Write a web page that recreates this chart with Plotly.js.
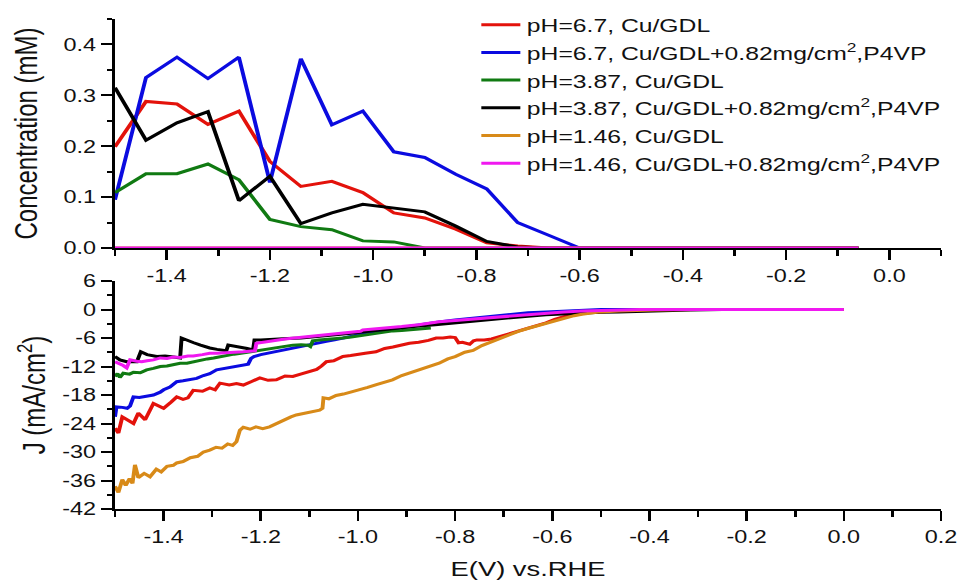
<!DOCTYPE html>
<html>
<head>
<meta charset="utf-8">
<script src="https://cdn.plot.ly/plotly-3.0.1.min.js"></script>
<style>
html,body{margin:0;padding:0;background:#fff;overflow:hidden;}
#wrap{width:969px;height:583px;overflow:hidden;position:relative;}
/* the reference figure is horizontally stretched; reproduce that stretch */
#chart{width:745px;height:583px;transform:scaleX(1.3007);transform-origin:0 0;}
</style>
</head>
<body>
<div id="wrap"><div id="chart"></div></div>
<script>
// ---------- Top panel: concentration (mM) vs E ----------
var E_conc = [-1.50,-1.44,-1.38,-1.32,-1.26,-1.20,-1.14,-1.08,-1.02,-0.96,-0.90,-0.84,-0.78,-0.72,-0.66,-0.60,-0.54,-0.48,-0.42,-0.36,-0.30,-0.24,-0.18,-0.12,-0.06];
var conc_red    = [0.199,0.288,0.283,0.243,0.269,0.170,0.121,0.131,0.109,0.069,0.059,0.037,0.010,0.004,0,0,0,0,0,0,0,0,0,0,0];
var conc_blue   = [0.095,0.335,0.375,0.333,0.375,0.129,0.372,0.242,0.269,0.189,0.178,0.145,0.116,0.050,0.025,0,0,0,0,0,0,0,0,0,0];
var conc_green  = [0.109,0.146,0.146,0.165,0.134,0.056,0.042,0.036,0.014,0.012,0,0,0,0,0,0,0,0,0,0,0,0,0,0,0];
var conc_black  = [0.315,0.212,0.246,0.268,0.093,0.141,0.048,0.069,0.086,0.078,0.071,0.043,0.013,0.002,0,0,0,0,0,0,0,0,0,0,0];
var conc_orange = [0,0,0,0,0,0,0,0,0,0,0,0,0,0,0,0,0,0,0,0,0,0,0,0,0];
var conc_pink   = [0,0,0,0,0,0,0,0,0,0,0,0,0,0,0,0,0,0,0,0,0,0,0,0,0];

// ---------- Bottom panel: J (mA/cm2) vs E ----------
var E_red = [-1.500,-1.493,-1.485,-1.475,-1.462,-1.452,-1.445,-1.438,-1.421,-1.410,-1.400,-1.385,-1.373,-1.360,-1.350,-1.339,-1.320,-1.305,-1.294,-1.284,-1.265,-1.250,-1.236,-1.220,-1.202,-1.185,-1.168,-1.150,-1.134,-1.118,-1.100,-1.085,-1.075,-1.065,-1.050,-1.031,-1.015,-1.000,-0.985,-0.963,-0.945,-0.928,-0.910,-0.894,-0.875,-0.855,-0.839,-0.825,-0.810,-0.800,-0.793,-0.785,-0.770,-0.762,-0.755,-0.740,-0.725,-0.705,-0.688,-0.670,-0.651,-0.630,-0.613,-0.595,-0.576,-0.555,-0.539,-0.520,-0.501,-0.464,-0.420,-0.350,-0.200,0.000];
var J_red = [-25.0,-26.0,-22.6,-23.3,-24.0,-21.8,-22.5,-23.2,-19.8,-20.4,-20.8,-19.5,-18.4,-18.9,-18.6,-17.0,-17.2,-16.5,-16.9,-15.5,-15.9,-15.6,-15.9,-15.2,-14.4,-14.9,-14.8,-14.0,-14.1,-13.6,-13.1,-12.6,-11.9,-11.0,-10.8,-9.9,-9.7,-9.4,-9.2,-8.9,-8.2,-7.9,-7.5,-7.1,-6.9,-6.5,-6.0,-6.0,-5.8,-5.9,-7.0,-6.9,-7.3,-6.6,-6.4,-6.4,-6.2,-5.6,-5.0,-4.5,-4.0,-3.4,-2.8,-2.1,-1.5,-1.1,-0.8,-0.6,-0.5,-0.2,-0.1,0.0,0.0,0.0];

var E_blue = [-1.500,-1.497,-1.485,-1.475,-1.469,-1.462,-1.450,-1.434,-1.421,-1.407,-1.400,-1.387,-1.373,-1.360,-1.346,-1.332,-1.318,-1.305,-1.291,-1.280,-1.265,-1.250,-1.236,-1.226,-1.220,-1.214,-1.200,-1.186,-1.168,-1.152,-1.135,-1.117,-1.100,-1.083,-1.065,-1.048,-1.031,-1.014,-0.995,-0.979,-0.963,-0.945,-0.910,-0.875,-0.833,-0.800,-0.763,-0.725,-0.688,-0.650,-0.613,-0.576,-0.539,-0.500,-0.300,0.000];
var J_blue = [-22.6,-20.5,-20.6,-20.8,-20.3,-18.4,-18.5,-18.3,-18.0,-17.4,-16.9,-16.3,-15.2,-15.0,-14.8,-14.5,-13.9,-13.5,-12.7,-12.5,-12.2,-12.0,-11.7,-11.5,-10.3,-9.9,-9.5,-9.2,-8.9,-8.6,-8.2,-7.8,-7.5,-7.1,-6.7,-6.4,-6.0,-5.6,-5.2,-4.9,-4.7,-4.3,-3.8,-3.2,-2.6,-2.2,-1.8,-1.4,-1.0,-0.7,-0.5,-0.3,-0.1,0.0,0.0,0.0];

var E_green = [-1.500,-1.495,-1.490,-1.483,-1.470,-1.462,-1.448,-1.435,-1.421,-1.407,-1.393,-1.380,-1.366,-1.352,-1.339,-1.324,-1.310,-1.297,-1.283,-1.271,-1.255,-1.241,-1.228,-1.214,-1.202,-1.186,-1.172,-1.159,-1.145,-1.134,-1.117,-1.103,-1.098,-1.093,-1.080,-1.060,-1.031,-1.014,-0.995,-0.979,-0.963,-0.945,-0.928,-0.910,-0.890,-0.870,-0.850];
var J_green = [-14.1,-13.5,-14.3,-13.4,-13.6,-13.2,-13.3,-12.7,-12.4,-12.0,-11.9,-11.6,-11.3,-11.3,-11.0,-10.7,-10.4,-10.2,-9.9,-9.6,-9.4,-9.2,-9.0,-8.8,-8.5,-8.3,-8.0,-7.9,-7.7,-7.5,-7.4,-7.5,-7.8,-6.6,-6.4,-6.3,-6.0,-5.8,-5.5,-5.2,-5.0,-4.8,-4.5,-4.4,-4.2,-4.0,-3.9];

var E_black = [-1.500,-1.495,-1.490,-1.476,-1.462,-1.455,-1.447,-1.441,-1.434,-1.414,-1.397,-1.380,-1.366,-1.363,-1.352,-1.338,-1.324,-1.305,-1.290,-1.271,-1.267,-1.255,-1.241,-1.228,-1.216,-1.213,-1.200,-1.186,-1.168,-1.145,-1.117,-1.083,-1.048,-1.014,-0.979,-0.945,-0.910,-0.875,-0.841,-0.800,-0.763,-0.725,-0.688,-0.650,-0.613,-0.576,-0.539,-0.500,-0.464,-0.400,-0.315,-0.250,0.000];
var J_black = [-9.9,-10.3,-10.6,-11.0,-11.0,-11.0,-8.9,-9.2,-9.5,-9.9,-9.8,-10.0,-10.2,-6.0,-6.5,-7.0,-7.5,-8.1,-8.4,-8.7,-7.5,-7.7,-7.9,-8.2,-8.5,-6.4,-6.4,-6.3,-6.2,-6.1,-6.0,-5.7,-5.4,-5.0,-4.6,-4.2,-3.9,-3.5,-3.2,-2.8,-2.4,-2.0,-1.7,-1.4,-1.1,-0.9,-0.7,-0.6,-0.5,-0.3,-0.1,0.0,0.0];

var E_orange = [-1.500,-1.493,-1.485,-1.478,-1.470,-1.464,-1.459,-1.452,-1.440,-1.428,-1.415,-1.405,-1.393,-1.380,-1.373,-1.360,-1.345,-1.330,-1.318,-1.305,-1.292,-1.280,-1.268,-1.258,-1.250,-1.243,-1.236,-1.222,-1.210,-1.196,-1.182,-1.168,-1.152,-1.138,-1.127,-1.110,-1.095,-1.079,-1.073,-1.071,-1.060,-1.045,-1.030,-1.014,-0.997,-0.980,-0.962,-0.945,-0.929,-0.910,-0.890,-0.872,-0.855,-0.833,-0.815,-0.800,-0.780,-0.763,-0.745,-0.725,-0.705,-0.688,-0.670,-0.651,-0.630,-0.613,-0.595,-0.576,-0.555,-0.539,-0.520,-0.501,-0.464,-0.430,-0.390,-0.300,-0.200,-0.100,0.000];
var J_orange = [-37.2,-38.5,-35.8,-37.0,-35.6,-36.6,-32.7,-35.4,-34.5,-35.2,-33.6,-34.2,-33.0,-32.8,-32.3,-32.0,-31.2,-30.9,-30.0,-29.6,-29.0,-29.2,-28.3,-28.6,-27.8,-25.4,-24.8,-25.2,-24.7,-25.1,-24.7,-24.0,-23.3,-22.6,-22.2,-21.9,-21.6,-21.2,-20.8,-18.6,-18.8,-18.1,-17.8,-17.4,-16.9,-16.4,-15.8,-15.3,-14.8,-13.9,-13.2,-12.5,-12.0,-11.3,-10.4,-9.9,-9.0,-8.6,-7.6,-6.8,-6.0,-5.3,-4.6,-4.0,-3.4,-2.9,-2.4,-1.9,-1.3,-1.0,-0.7,-0.5,-0.3,-0.2,-0.1,0.0,0.0,0.0,0.0];

var E_pink = [-1.500,-1.492,-1.483,-1.476,-1.469,-1.455,-1.445,-1.434,-1.421,-1.407,-1.393,-1.380,-1.366,-1.350,-1.339,-1.320,-1.305,-1.290,-1.270,-1.255,-1.236,-1.220,-1.212,-1.209,-1.190,-1.168,-1.150,-1.131,-1.100,-1.070,-1.048,-1.031,-1.010,-0.995,-0.990,-0.965,-0.945,-0.910,-0.875,-0.833,-0.800,-0.763,-0.725,-0.688,-0.650,-0.613,-0.576,-0.539,-0.500,-0.464,-0.420,-0.200,0.000];
var J_pink = [-11.0,-11.3,-11.8,-12.3,-10.6,-10.9,-11.0,-10.8,-10.6,-10.2,-10.3,-10.0,-10.1,-9.8,-9.8,-9.5,-9.2,-9.2,-9.0,-9.0,-8.9,-8.8,-8.7,-7.1,-6.8,-6.4,-6.2,-6.0,-5.7,-5.4,-5.2,-5.0,-4.8,-4.6,-4.3,-4.1,-3.9,-3.6,-3.2,-2.6,-2.3,-2.0,-1.6,-1.3,-1.0,-0.7,-0.5,-0.3,-0.2,-0.1,0.0,0.0,0.0];

// ---------- Labels ----------
var seriesNames = [
  'pH=6.7, Cu/GDL',
  'pH=6.7, Cu/GDL+0.82mg/cm<sup>2</sup>,P4VP',
  'pH=3.87, Cu/GDL',
  'pH=3.87, Cu/GDL+0.82mg/cm<sup>2</sup>,P4VP',
  'pH=1.46, Cu/GDL',
  'pH=1.46, Cu/GDL+0.82mg/cm<sup>2</sup>,P4VP'
];
var seriesColors = ['#e3120b','#0b0be0','#107a12','#000000','#d88a18','#f018f0'];

var xTopTickVals = [-1.4,-1.2,-1.0,-0.8,-0.6,-0.4,-0.2,0.0];
var xTopTickText = ['-1.4','-1.2','-1.0','-0.8','-0.6','-0.4','-0.2','0.0'];
var xBotTickVals = [-1.4,-1.2,-1.0,-0.8,-0.6,-0.4,-0.2,0.0,0.2];
var xBotTickText = ['-1.4','-1.2','-1.0','-0.8','-0.6','-0.4','-0.2','0.0','0.2'];
var yTopTickVals = [0.0,0.1,0.2,0.3,0.4];
var yTopTickText = ['0.0','0.1','0.2','0.3','0.4'];
var yBotTickVals = [6,0,-6,-12,-18,-24,-30,-36,-42];
var yBotTickText = ['6','0','-6','-12','-18','-24','-30','-36','-42'];

var topY = [conc_red, conc_blue, conc_green, conc_black, conc_orange, conc_pink];
var botX = [E_red, E_blue, E_green, E_black, E_orange, E_pink];
var botY = [J_red, J_blue, J_green, J_black, J_orange, J_pink];

var traces = [];
for (var i = 0; i < 6; i++) {
  traces.push({
    x: E_conc, y: topY[i], xaxis: 'x2', yaxis: 'y2', type: 'scatter', mode: 'lines',
    name: seriesNames[i], legendgroup: 'g' + i, showlegend: true,
    line: {color: seriesColors[i], width: 3}
  });
}
for (var k = 0; k < 6; k++) {
  traces.push({
    x: botX[k], y: botY[k], xaxis: 'x', yaxis: 'y', type: 'scatter', mode: 'lines',
    name: seriesNames[k], legendgroup: 'g' + k, showlegend: false,
    line: {color: seriesColors[k], width: 3}
  });
}

var FONT = 'Liberation Sans, Arial, sans-serif';
var tickFont = {family: FONT, size: 18, color: '#111'};
var yTitleFont = {family: FONT, size: 24, color: '#111'};
var xTitleFont = {family: FONT, size: 21, color: '#111'};

function xBase() {
  return {
    showline: true, linecolor: '#000', linewidth: 2,
    ticks: 'outside', ticklen: 10, tickwidth: 2, tickcolor: '#000',
    showgrid: false, zeroline: false, tickfont: tickFont, fixedrange: true
  };
}
function yBase() {
  return {
    showline: true, linecolor: '#000', linewidth: 2,
    ticks: 'outside', ticklen: 9, tickwidth: 2, tickcolor: '#000',
    showgrid: false, zeroline: false, tickfont: tickFont, fixedrange: true
  };
}

var xaxis = Object.assign(xBase(), {
  domain: [0.1187, 0.9711], anchor: 'y', range: [-1.5, 0.2],
  tickmode: 'array', tickvals: xBotTickVals, ticktext: xBotTickText,
  minor: {tickmode: 'linear', tick0: -1.5, dtick: 0.1, ticklen: 6, tickwidth: 2, tickcolor: '#000', ticks: 'outside'},
  title: {text: 'E(V) vs.RHE', font: xTitleFont, standoff: 16}
});
var yaxis = Object.assign(yBase(), {
  domain: [0.1269, 0.5180], anchor: 'x', range: [-42, 6],
  tickmode: 'array', tickvals: yBotTickVals, ticktext: yBotTickText,
  minor: {tickmode: 'linear', tick0: -42, dtick: 3, ticklen: 4, tickwidth: 2, tickcolor: '#000', ticks: 'outside'},
  title: {text: 'J (mA/cm<sup>2</sup>)', font: yTitleFont, standoff: 6}
});
var xaxis2 = Object.assign(xBase(), {
  domain: [0.1187, 0.9711], anchor: 'y2', range: [-1.5, 0.1],
  tickmode: 'array', tickvals: xTopTickVals, ticktext: xTopTickText,
  minor: {tickmode: 'linear', tick0: -1.5, dtick: 0.1, ticklen: 6, tickwidth: 2, tickcolor: '#000', ticks: 'outside'}
});
var yaxis2 = Object.assign(yBase(), {
  domain: [0.5746, 0.9674], anchor: 'x2', range: [0, 0.45],
  tickmode: 'array', tickvals: yTopTickVals, ticktext: yTopTickText,
  minor: {tickmode: 'linear', tick0: 0, dtick: 0.05, ticklen: 4, tickwidth: 2, tickcolor: '#000', ticks: 'outside'},
  title: {text: 'Concentration (mM)', font: yTitleFont, standoff: 13}
});

var layout = {
  width: 745, height: 583,
  margin: {l: 0, r: 0, t: 0, b: 0, pad: 0},
  paper_bgcolor: '#fff', plot_bgcolor: 'rgba(0,0,0,0)',
  showlegend: true,
  legend: {
    x: 0.49, y: 0.99, xanchor: 'left', yanchor: 'top',
    bgcolor: 'rgba(0,0,0,0)', borderwidth: 0,
    font: {family: FONT, size: 19, color: '#111'},
    tracegroupgap: 0
  },
  xaxis: xaxis, yaxis: yaxis, xaxis2: xaxis2, yaxis2: yaxis2
};

Plotly.newPlot('chart', traces, layout, {staticPlot: true, displayModeBar: false});
</script>
</body>
</html>
